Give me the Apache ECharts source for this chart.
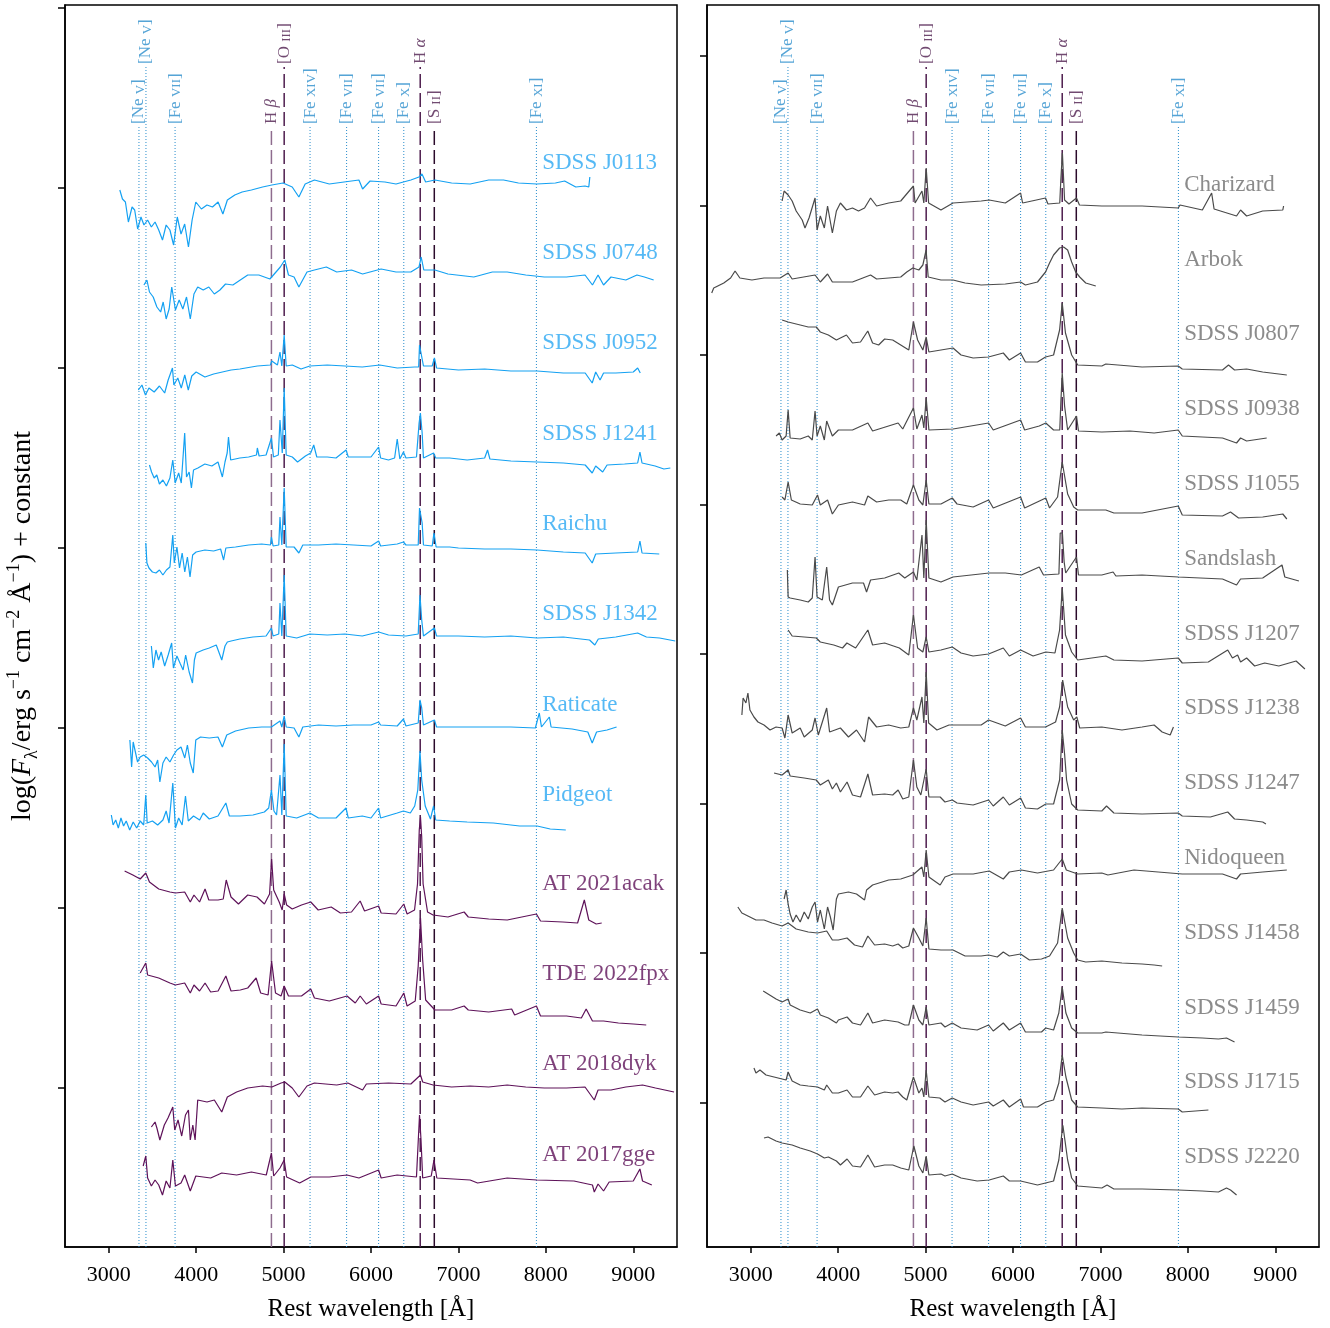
<!DOCTYPE html>
<html>
<head>
<meta charset="utf-8">
<script src="https://cdn.jsdelivr.net/npm/echarts@6/dist/echarts.min.js"></script>
<style>
  html, body { margin: 0; padding: 0; background: #fff; }
  #container { width: 1330px; height: 1328px; }
</style>
</head>
<body>
<div id="container"></div>
<script>
// ---------- line list ----------
var lineWl   = [3346, 3426, 3759, 4861, 5007, 5303, 5721, 6087, 6375, 6563, 6724, 7892];
var lineRow  = [0, 1, 0, 0, 1, 0, 0, 0, 0, 1, 0, 0];
var lineKind = ['c', 'c', 'c', 'hb', 'o3', 'c', 'c', 'c', 'c', 'ha', 's2', 'c'];
var lineText = ['{t|[Ne }{s|V}{t|]}', '{t|[Ne }{s|V}{t|]}', '{t|[Fe }{s|VII}{t|]}', '{t|H }{i|β}',
                '{t|[O }{s|III}{t|]}', '{t|[Fe }{s|XIV}{t|]}', '{t|[Fe }{s|VII}{t|]}', '{t|[Fe }{s|VII}{t|]}',
                '{t|[Fe }{s|X}{t|]}', '{t|H }{i|α}', '{t|[S }{s|II}{t|]}', '{t|[Fe }{s|XI}{t|]}'];

var xTicks  = [3000, 4000, 5000, 6000, 7000, 8000, 9000];
var yTicksL = [1.8, 3.6, 5.4, 7.2, 9.0, 10.8, 12.6];
var yTicksR = [1.5, 3.0, 4.49, 5.99, 7.48, 8.98, 10.47, 11.97];

// ---------- left panel spectra (wavelength, log flux rel. to continuum) ----------
var sJ0113 = [[3127,-0.08],[3157,-0.17],[3191,-0.20],[3225,-0.40],[3267,-0.25],[3297,-0.28],[3331,-0.47],[3369,-0.35],[3403,-0.43],[3445,-0.38],[3488,-0.45],[3530,-0.40],[3572,-0.48],[3615,-0.58],[3657,-0.43],[3700,-0.48],[3742,-0.63],[3784,-0.35],[3827,-0.52],[3869,-0.42],[3912,-0.65],[3954,-0.38],[3996,-0.20],[4060,-0.27],[4124,-0.23],[4187,-0.25],[4251,-0.20],[4306,-0.32],[4357,-0.18],[4442,-0.13],[4526,-0.10],[4632,-0.08],[4760,-0.05],[4866,-0.03],[4993,-0.01],[5099,-0.05],[5175,-0.15],[5247,-0.02],[5353,0.02],[5523,-0.02],[5692,0],[5862,0.02],[5904,-0.07],[5989,0.01],[6159,0],[6286,-0.02],[6456,0.02],[6549,0.05],[6583,0.08],[6625,0],[6731,0.02],[6922,-0.01],[7134,-0.02],[7346,0.02],[7516,0.02],[7686,-0.01],[7897,-0.02],[8109,-0.01],[8215,0.01],[8342,-0.05],[8448,-0.04],[8491,-0.05],[8503,0.05]];
var sJ0748 = [[3403,-0.13],[3437,-0.08],[3466,-0.20],[3509,-0.25],[3551,-0.35],[3594,-0.40],[3623,-0.30],[3657,-0.47],[3691,-0.37],[3721,-0.15],[3763,-0.38],[3806,-0.28],[3848,-0.37],[3890,-0.25],[3933,-0.47],[3975,-0.22],[4018,-0.15],[4081,-0.18],[4145,-0.15],[4208,-0.22],[4272,-0.18],[4336,-0.12],[4420,-0.13],[4505,-0.08],[4590,-0.03],[4717,-0.03],[4844,-0.07],[4963,0.05],[5014,0.12],[5056,-0.03],[5120,-0.05],[5175,-0.15],[5268,0],[5353,0.02],[5489,0.05],[5608,0],[5777,0.02],[5904,-0.02],[6116,0.03],[6286,0],[6456,0],[6549,0.05],[6574,0.15],[6604,0.02],[6731,0.02],[6880,-0.02],[7176,-0.05],[7388,0],[7558,0],[7770,-0.03],[7982,-0.05],[8236,-0.05],[8448,-0.03],[8533,-0.13],[8597,-0.03],[8660,-0.13],[8745,-0.05],[8915,-0.08],[9042,-0.03],[9127,-0.05],[9233,-0.08]];
var sJ0952 = [[3339,-0.25],[3380,-0.20],[3420,-0.30],[3460,-0.23],[3520,-0.27],[3580,-0.21],[3640,-0.28],[3680,-0.15],[3729,-0.03],[3745,-0.20],[3790,-0.13],[3830,-0.23],[3870,-0.10],[3910,-0.25],[3950,-0.11],[4000,-0.07],[4100,-0.12],[4200,-0.09],[4300,-0.07],[4400,-0.05],[4500,-0.04],[4700,-0.01],[4850,0],[4865,0.04],[4930,0],[4959,0.13],[4980,-0.01],[5007,0.30],[5030,-0.01],[5100,0],[5200,-0.04],[5300,-0.01],[5500,0],[5700,-0.01],[5900,-0.02],[6100,0],[6300,-0.03],[6500,-0.02],[6545,-0.02],[6555,0.20],[6575,0.22],[6600,-0.01],[6700,-0.01],[6725,0.07],[6750,-0.03],[7000,-0.05],[7300,-0.04],[7600,-0.06],[7900,-0.06],[8200,-0.08],[8450,-0.08],[8530,-0.18],[8570,-0.07],[8620,-0.15],[8660,-0.08],[8800,-0.08],[9000,-0.07],[9050,-0.03],[9080,-0.08]];
var sJ1241 = [[3466,-0.08],[3490,-0.15],[3520,-0.21],[3550,-0.18],[3580,-0.27],[3620,-0.23],[3660,-0.29],[3700,-0.21],[3733,-0.03],[3760,-0.26],[3800,-0.16],[3830,-0.26],[3869,0.24],[3890,-0.20],[3920,-0.15],[3946,-0.31],[3970,-0.13],[4020,-0.11],[4100,-0.07],[4180,-0.09],[4250,-0.05],[4300,-0.20],[4330,-0.05],[4355,0.04],[4370,0.20],[4395,-0.03],[4500,-0.01],[4600,0],[4690,0.02],[4700,0.09],[4720,0.01],[4800,0.02],[4861,0.19],[4885,0],[4940,0.02],[4959,0.37],[4985,0.04],[5007,0.69],[5030,0.02],[5100,0],[5160,-0.05],[5250,0.01],[5310,0.04],[5345,0.12],[5380,0],[5500,0],[5600,-0.01],[5715,0.07],[5740,0],[5900,0],[6000,0],[6087,0.10],[6110,-0.01],[6200,-0.03],[6270,-0.01],[6300,0.18],[6330,-0.02],[6371,0.05],[6400,-0.01],[6520,0],[6550,0.34],[6565,0.44],[6585,0.24],[6600,-0.01],[6716,0.04],[6740,-0.01],[6900,-0.01],[7100,-0.03],[7300,-0.01],[7333,0.07],[7360,-0.02],[7600,-0.04],[7900,-0.05],[8200,-0.06],[8450,-0.08],[8530,-0.16],[8570,-0.09],[8650,-0.15],[8700,-0.08],[8900,-0.07],[9050,-0.06],[9076,0.05],[9100,-0.06],[9250,-0.09],[9350,-0.12],[9424,-0.11]];
var sRaichu = [[3424,0.02],[3437,-0.18],[3460,-0.23],[3500,-0.27],[3540,-0.28],[3580,-0.25],[3620,-0.30],[3660,-0.25],[3700,-0.22],[3733,0.10],[3750,-0.18],[3780,-0.02],[3810,-0.23],[3840,-0.08],[3870,-0.27],[3900,-0.12],[3930,-0.32],[3960,-0.10],[4000,-0.07],[4100,-0.05],[4200,-0.06],[4280,-0.04],[4314,-0.15],[4340,-0.03],[4450,-0.02],[4600,0],[4750,0.01],[4850,0],[4861,0.08],[4880,-0.01],[4945,0],[4959,0.28],[4980,0],[5007,0.57],[5030,-0.02],[5120,-0.02],[5175,-0.08],[5220,0],[5400,0],[5600,0.01],[5800,0],[6000,-0.01],[6087,0.04],[6110,-0.01],[6300,0.01],[6371,0.03],[6400,0],[6540,0],[6555,0.37],[6570,0.35],[6585,0.22],[6600,0],[6700,-0.01],[6720,0.12],[6745,-0.02],[6900,-0.02],[7000,-0.03],[7300,-0.04],[7600,-0.04],[7900,-0.05],[8200,-0.07],[8450,-0.08],[8530,-0.18],[8570,-0.09],[8800,-0.08],[9050,-0.07],[9076,0.04],[9100,-0.08],[9297,-0.09]];
var sJ1342 = [[3488,-0.11],[3510,-0.33],[3540,-0.15],[3570,-0.25],[3600,-0.17],[3640,-0.31],[3680,-0.20],[3720,-0.08],[3740,-0.33],[3780,-0.21],[3820,-0.29],[3851,-0.35],[3880,-0.20],[3920,-0.37],[3958,-0.48],[3980,-0.25],[4000,-0.18],[4080,-0.15],[4150,-0.13],[4230,-0.10],[4293,-0.25],[4330,-0.11],[4357,-0.07],[4400,-0.06],[4500,-0.04],[4650,-0.02],[4800,-0.01],[4861,0.07],[4880,-0.01],[4945,0.01],[4959,0.32],[4980,-0.01],[5007,0.60],[5030,-0.01],[5150,-0.03],[5300,0.01],[5500,0],[5700,0.01],[5900,-0.01],[6087,0.03],[6200,0],[6400,-0.01],[6540,0.01],[6560,0.40],[6580,0.15],[6600,-0.01],[6725,0.07],[6750,-0.01],[7000,-0.01],[7300,-0.02],[7600,-0.01],[7900,-0.03],[8200,-0.02],[8500,-0.05],[8560,-0.10],[8600,-0.04],[8800,-0.02],[9050,0.02],[9150,-0.02],[9300,-0.03],[9480,-0.06]];
var sRaticate = [[3242,-0.15],[3262,-0.42],[3280,-0.17],[3300,-0.25],[3330,-0.37],[3360,-0.32],[3400,-0.30],[3445,-0.33],[3490,-0.37],[3530,-0.42],[3560,-0.35],[3585,-0.57],[3620,-0.38],[3657,-0.32],[3700,-0.37],[3742,-0.30],[3780,-0.25],[3827,-0.22],[3870,-0.33],[3900,-0.20],[3933,-0.38],[3967,-0.48],[3996,-0.15],[4050,-0.12],[4150,-0.13],[4250,-0.12],[4300,-0.22],[4350,-0.10],[4450,-0.06],[4600,-0.03],[4750,-0.02],[4861,-0.02],[4959,0.04],[4980,-0.02],[5007,0.09],[5030,-0.02],[5120,-0.03],[5175,-0.12],[5220,-0.02],[5400,0],[5600,-0.01],[5800,0],[6000,0],[6087,0.03],[6110,0],[6300,-0.01],[6371,0.06],[6400,-0.01],[6540,0.02],[6560,0.25],[6580,0.17],[6600,0],[6725,0.05],[6750,-0.02],[7000,-0.02],[7300,-0.02],[7600,-0.02],[7880,-0.03],[7925,0.12],[7950,-0.02],[8040,0.08],[8060,-0.02],[8300,-0.04],[8480,-0.07],[8530,-0.18],[8580,-0.07],[8700,-0.05],[8809,-0.02]];
var sPidgeot = [[3030,0.03],[3050,-0.07],[3080,-0.02],[3110,-0.10],[3140,0],[3170,-0.08],[3200,-0.03],[3240,-0.12],[3280,-0.04],[3320,-0.10],[3360,-0.03],[3400,-0.07],[3424,0.23],[3440,-0.05],[3500,-0.03],[3560,-0.07],[3620,-0.02],[3657,0.07],[3690,-0.05],[3733,0.35],[3763,-0.10],[3800,0],[3840,-0.07],[3878,0.22],[3910,-0.03],[3970,0.02],[4040,-0.02],[4081,0.05],[4150,-0.01],[4250,0.02],[4340,0.15],[4380,0.02],[4500,0.02],[4650,0.03],[4780,0.06],[4830,0.10],[4861,0.28],[4890,0.07],[4920,0.03],[4959,0.43],[4980,0.03],[5007,0.74],[5030,0.02],[5150,0],[5300,0.05],[5400,0],[5600,0],[5714,0.10],[5740,0],[5900,0.02],[6000,0],[6087,0.10],[6110,0],[6300,0.05],[6371,0.07],[6450,0.05],[6500,0.12],[6535,0.28],[6560,0.67],[6580,0.38],[6620,0.12],[6680,-0.01],[6716,0.12],[6740,-0.02],[6900,-0.03],[7100,-0.04],[7400,-0.05],[7700,-0.08],[7900,-0.08],[8050,-0.11],[8228,-0.12]];
var sAT2021acak = [[3182,0.41],[3276,0.37],[3360,0.33],[3424,0.39],[3466,0.30],[3572,0.23],[3700,0.20],[3763,0.19],[3869,0.20],[3933,0.10],[3975,0.17],[4039,0.10],[4102,0.23],[4145,0.12],[4251,0.12],[4310,0.13],[4344,0.32],[4399,0.15],[4484,0.08],[4590,0.17],[4696,0.15],[4781,0.08],[4840,0.18],[4863,0.53],[4887,0.22],[4950,0.10],[4984,0.02],[5007,0.18],[5035,0.07],[5099,0.03],[5205,0.07],[5311,0.10],[5396,0.02],[5545,0.05],[5650,-0.01],[5777,0],[5876,0.11],[5926,0.01],[6087,0.06],[6116,-0.01],[6286,-0.02],[6375,0.08],[6413,-0.02],[6498,0.02],[6532,0.28],[6552,0.82],[6566,0.95],[6580,0.75],[6596,0.28],[6647,0],[6710,-0.03],[6880,-0.05],[7065,0],[7113,-0.05],[7346,-0.07],[7558,-0.08],[7892,-0.02],[7939,-0.09],[8194,-0.10],[8363,-0.11],[8440,0.12],[8491,-0.08],[8576,-0.12],[8639,-0.11]];
var sTDE2022fpx = [[3360,0.30],[3424,0.40],[3445,0.28],[3572,0.25],[3700,0.20],[3763,0.18],[3869,0.20],[3933,0.10],[3975,0.18],[4039,0.12],[4102,0.20],[4166,0.11],[4251,0.12],[4340,0.27],[4399,0.12],[4505,0.13],[4590,0.15],[4686,0.25],[4738,0.10],[4823,0.08],[4863,0.42],[4908,0.10],[4971,0.07],[5007,0.17],[5056,0.07],[5205,0.07],[5311,0.14],[5353,0.05],[5523,0.02],[5726,0.07],[5820,0],[5876,0.07],[5947,-0.01],[6087,0.07],[6116,-0.01],[6286,-0.03],[6375,0.10],[6413,-0.03],[6506,0.02],[6540,0.37],[6566,0.85],[6591,0.43],[6625,0.03],[6731,-0.07],[6922,-0.07],[7065,-0.03],[7113,-0.07],[7346,-0.09],[7609,-0.06],[7643,-0.12],[7892,-0.03],[7939,-0.13],[8236,-0.13],[8406,-0.15],[8461,-0.06],[8533,-0.18],[8660,-0.18],[8830,-0.20],[9000,-0.21],[9148,-0.22]];
var sAT2018dyk = [[3488,-0.42],[3530,-0.37],[3551,-0.43],[3585,-0.55],[3636,-0.40],[3678,-0.33],[3733,-0.22],[3755,-0.45],[3793,-0.35],[3835,-0.51],[3878,-0.30],[3912,-0.25],[3933,-0.55],[3962,-0.40],[3988,-0.55],[4018,-0.15],[4124,-0.17],[4208,-0.15],[4293,-0.27],[4357,-0.12],[4463,-0.07],[4590,-0.03],[4760,-0.01],[4866,-0.02],[4972,0.02],[5014,0.03],[5099,-0.03],[5175,-0.12],[5268,-0.01],[5353,0.02],[5608,0],[5735,0.02],[5904,-0.05],[5947,0.01],[6201,0.02],[6456,0.01],[6566,0.10],[6591,0.03],[6710,0],[6922,-0.02],[7134,-0.01],[7346,-0.02],[7558,0],[7770,-0.02],[7982,-0.03],[8236,-0.03],[8448,-0.02],[8554,-0.15],[8597,-0.05],[8745,-0.05],[8915,-0.02],[9106,0],[9254,-0.03],[9466,-0.07]];
var sAT2017gge = [[3394,0.11],[3424,0.21],[3445,-0.01],[3488,-0.09],[3530,-0.03],[3572,-0.08],[3615,-0.18],[3657,-0.04],[3700,-0.11],[3733,0.17],[3763,-0.09],[3827,-0.06],[3869,0.02],[3933,-0.14],[3996,0.01],[4166,-0.01],[4293,0.04],[4463,0.02],[4632,0.05],[4802,0.02],[4861,0.24],[4887,0.01],[4959,0.09],[5007,0.17],[5035,0],[5184,-0.06],[5311,0],[5523,0],[5726,0.02],[5862,-0.01],[6087,0.07],[6116,-0.01],[6299,0.02],[6520,0],[6555,0.62],[6572,0.37],[6591,-0.01],[6689,0.01],[6720,0.17],[6753,-0.01],[7134,-0.03],[7219,-0.06],[7558,-0.01],[7897,-0.03],[8321,-0.04],[8533,-0.08],[8554,-0.15],[8597,-0.07],[8660,-0.14],[8724,-0.05],[9000,-0.04],[9076,0.08],[9106,-0.04],[9212,-0.08]];

// ---------- right panel spectra ----------
var sCharizard = [[3359,0.02],[3382,0.12],[3428,0.08],[3474,0.02],[3520,-0.08],[3589,-0.17],[3621,-0.25],[3667,-0.15],[3736,0.05],[3759,-0.27],[3796,-0.13],[3842,-0.25],[3879,-0.03],[3934,-0.30],[3980,-0.08],[4026,0],[4095,-0.07],[4164,-0.05],[4233,-0.08],[4302,-0.05],[4371,0.05],[4440,-0.03],[4578,0],[4716,0.02],[4861,0.17],[4880,0],[4959,0.12],[4980,0],[5007,0.35],[5035,0],[5176,-0.07],[5314,0],[5636,0.02],[5728,0.03],[5912,0],[6087,0.10],[6110,0],[6372,0.05],[6400,-0.01],[6535,0],[6547,0.23],[6565,0.50],[6590,0.03],[6640,-0.01],[6726,0.05],[6760,-0.02],[7016,-0.03],[7476,-0.03],[7890,-0.05],[7910,-0.02],[8166,-0.07],[8272,0.10],[8300,-0.06],[8557,-0.13],[8603,-0.07],[8672,-0.13],[8856,-0.08],[9086,-0.07],[9095,-0.03]];
var sArbok = [[2554,-0.13],[2577,-0.08],[2692,-0.03],[2770,0.02],[2821,0.09],[2876,0.02],[3014,0],[3152,0.02],[3336,0.02],[3428,0.07],[3474,0.01],[3736,0.05],[3796,-0.02],[3879,0.06],[3934,-0.02],[4164,-0.02],[4371,0.05],[4440,0.01],[4716,0.03],[4785,0.08],[4854,0.12],[4923,0.10],[4969,0.15],[5006,0.30],[5030,0.03],[5176,0],[5314,0],[5452,-0.03],[5636,-0.05],[5912,-0.04],[6087,-0.02],[6142,-0.05],[6280,-0.02],[6372,0.08],[6418,0.17],[6464,0.25],[6533,0.32],[6579,0.33],[6625,0.30],[6671,0.18],[6717,0.08],[6763,0.03],[6832,-0.03],[6947,-0.06]];
var sJ0807 = [[3359,0.40],[3428,0.38],[3566,0.35],[3658,0.33],[3750,0.33],[3796,0.28],[3888,0.25],[3980,0.20],[4095,0.25],[4164,0.17],[4256,0.18],[4339,0.29],[4394,0.17],[4463,0.15],[4532,0.21],[4624,0.20],[4716,0.15],[4808,0.10],[4861,0.38],[4909,0.20],[4969,0.10],[5007,0.23],[5038,0.08],[5176,0.10],[5314,0.12],[5406,0.05],[5544,0.02],[5719,0.03],[5889,0.07],[5958,0],[6087,0.07],[6142,-0.02],[6280,-0.02],[6372,0.03],[6464,0.05],[6533,0.30],[6563,0.57],[6600,0.27],[6671,0.05],[6740,-0.05],[7016,-0.06],[7062,-0.04],[7476,-0.07],[7890,-0.06],[7936,-0.09],[8396,-0.10],[8465,-0.05],[8534,-0.10],[8672,-0.09],[8856,-0.12],[9132,-0.15]];
var sJ0938 = [[3290,-0.07],[3327,-0.04],[3359,-0.11],[3405,-0.07],[3428,0.19],[3451,-0.09],[3566,-0.10],[3658,-0.07],[3704,-0.11],[3736,0.18],[3759,-0.07],[3796,0.03],[3842,-0.11],[3869,0.08],[3934,-0.07],[4003,-0.01],[4164,-0.01],[4340,0.06],[4394,-0.02],[4686,0.06],[4739,0],[4861,0.21],[4900,0],[4959,0.14],[4980,0.01],[5007,0.31],[5038,-0.01],[5314,0],[5721,0.06],[5774,-0.01],[6087,0.09],[6133,-0.01],[6300,0.03],[6375,0.06],[6464,-0.01],[6535,-0.01],[6547,0.26],[6563,0.56],[6590,0.23],[6625,-0.01],[6726,0.13],[6749,-0.02],[7016,-0.03],[7338,-0.02],[7614,-0.04],[7890,-0.01],[7936,-0.07],[8396,-0.09],[8557,-0.14],[8603,-0.09],[8672,-0.12],[8902,-0.09]];
var sJ1055 = [[3359,0.10],[3391,0.07],[3428,0.25],[3465,0.07],[3566,0.03],[3704,0.02],[3764,0.12],[3796,0.02],[3879,0.07],[3934,-0.07],[4003,0.02],[4164,0.05],[4302,0.02],[4340,0.11],[4440,0.05],[4578,0.07],[4716,0.07],[4785,0.03],[4861,0.22],[4923,0.07],[4969,0.02],[5007,0.27],[5038,0.03],[5176,0.03],[5305,0.09],[5360,0.03],[5544,0],[5721,0.07],[5774,-0.01],[6087,0.10],[6133,-0.01],[6375,0.09],[6418,-0.01],[6510,0.10],[6563,0.45],[6625,0.13],[6694,0],[6740,-0.03],[7062,-0.03],[7154,-0.06],[7476,-0.06],[7890,0.01],[7936,-0.08],[8396,-0.09],[8488,-0.05],[8580,-0.11],[8856,-0.10],[9086,-0.07],[9132,-0.12]];
var sSandslash = [[3419,0.05],[3428,-0.22],[3451,-0.23],[3566,-0.25],[3658,-0.27],[3704,-0.23],[3736,0.18],[3759,-0.22],[3819,-0.25],[3869,0.08],[3902,-0.25],[3934,-0.30],[4003,-0.12],[4164,-0.08],[4290,-0.08],[4325,-0.17],[4371,-0.05],[4532,-0.03],[4693,0.02],[4762,-0.03],[4861,0.03],[4900,-0.05],[4959,0.40],[4980,-0.03],[5007,0.55],[5038,-0.03],[5176,-0.07],[5314,-0.02],[5728,0.02],[5912,0.02],[6096,0],[6300,0.08],[6349,0],[6525,0.01],[6540,0.42],[6565,0.42],[6585,0.13],[6603,0.02],[6726,0.18],[6749,0],[7016,0],[7145,0.03],[7177,-0.01],[7476,0],[7890,-0.02],[8396,-0.04],[8557,-0.10],[8603,-0.04],[8856,-0.03],[9077,0.10],[9109,-0.02],[9270,-0.06]];
var sJ1207 = [[3428,0.25],[3474,0.19],[3612,0.18],[3750,0.17],[3796,0.13],[3950,0.10],[4050,0.07],[4100,0.12],[4200,0.07],[4340,0.25],[4394,0.10],[4532,0.12],[4700,0.07],[4808,0],[4861,0.40],[4909,0.07],[4969,0.03],[5007,0.18],[5038,0.03],[5176,0.05],[5305,0.08],[5406,0.02],[5544,-0.01],[5721,0.01],[5889,0.07],[5958,-0.01],[6087,0.05],[6230,-0.01],[6375,0.03],[6480,0.02],[6533,0.25],[6563,0.67],[6600,0.20],[6671,0.03],[6740,-0.05],[7062,-0.01],[7154,-0.05],[7476,-0.06],[7890,-0.03],[7936,-0.08],[8234,-0.07],[8456,0.05],[8510,-0.03],[8569,0],[8603,-0.07],[8672,-0.03],[8764,-0.11],[8879,-0.08],[9040,-0.11],[9238,-0.06],[9339,-0.14]];
var sJ1238 = [[2899,0.10],[2913,0.27],[2945,0.22],[2968,0.32],[2991,0.15],[3037,0.08],[3083,0.03],[3152,0],[3221,-0.05],[3290,-0.02],[3359,-0.03],[3391,-0.13],[3428,0.10],[3474,-0.08],[3566,-0.03],[3612,-0.12],[3704,-0.05],[3736,0.07],[3773,-0.10],[3869,0.17],[3902,-0.07],[4026,-0.03],[4118,-0.12],[4210,-0.05],[4302,-0.17],[4348,0.08],[4440,-0.02],[4578,0],[4716,-0.03],[4808,-0.02],[4861,0.17],[4900,0.05],[4959,0.28],[4980,0.02],[5007,0.53],[5035,0.02],[5130,-0.05],[5268,0],[5636,0],[5721,0.05],[5912,-0.01],[6087,0.07],[6142,-0.02],[6372,-0.02],[6487,0.03],[6533,0.18],[6568,0.45],[6625,0.18],[6694,0.05],[6730,0.08],[6763,-0.03],[7016,-0.02],[7246,-0.05],[7476,-0.02],[7614,0],[7706,-0.07],[7798,-0.10],[7835,-0.02]];
var sJ1247 = [[3267,0.34],[3359,0.32],[3428,0.37],[3451,0.31],[3612,0.29],[3750,0.27],[3796,0.22],[3888,0.27],[3934,0.18],[3980,0.24],[4026,0.15],[4102,0.25],[4164,0.12],[4256,0.10],[4340,0.33],[4394,0.12],[4532,0.13],[4624,0.12],[4686,0.17],[4739,0.08],[4808,0.10],[4861,0.47],[4900,0.20],[4946,0.12],[5007,0.38],[5038,0.10],[5167,0.10],[5222,0.05],[5305,0.07],[5360,0.04],[5544,0.02],[5721,0.07],[5774,0.01],[5889,0.10],[5958,0.02],[6087,0.09],[6142,-0.01],[6280,-0.02],[6375,0.03],[6464,0.03],[6533,0.27],[6563,0.77],[6590,0.53],[6613,0.27],[6671,0.03],[6740,-0.03],[7016,-0.04],[7070,0.01],[7154,-0.06],[7476,-0.07],[7890,-0.06],[7936,-0.09],[8258,-0.10],[8456,-0.05],[8534,-0.12],[8672,-0.13],[8856,-0.15],[8893,-0.17]];
var sNidoqueen = [[3382,-0.27],[3405,-0.18],[3428,-0.32],[3451,-0.42],[3483,-0.50],[3520,-0.43],[3566,-0.50],[3612,-0.40],[3658,-0.47],[3704,-0.35],[3736,-0.30],[3764,-0.50],[3796,-0.38],[3842,-0.57],[3879,-0.35],[3911,-0.45],[3943,-0.58],[3980,-0.27],[4003,-0.22],[4118,-0.20],[4210,-0.22],[4302,-0.28],[4325,-0.18],[4394,-0.13],[4578,-0.08],[4716,-0.07],[4854,-0.03],[4959,0.05],[4980,-0.05],[5007,0.22],[5038,-0.05],[5167,-0.13],[5222,-0.05],[5314,-0.02],[5544,-0.02],[5728,0.01],[5889,-0.07],[5958,0],[6096,0.02],[6280,-0.01],[6464,0.02],[6563,0.13],[6610,0.02],[6740,-0.02],[7016,-0.01],[7085,-0.03],[7384,0.02],[7660,0],[7936,-0.02],[8396,-0.02],[8557,-0.07],[8603,-0.02],[8856,0],[9132,0.02]];
var sJ1458 = [[2853,0.51],[2899,0.45],[2968,0.42],[3060,0.38],[3152,0.38],[3244,0.35],[3359,0.32],[3428,0.35],[3520,0.29],[3658,0.26],[3764,0.25],[3869,0.27],[3934,0.18],[4003,0.18],[4102,0.20],[4187,0.13],[4279,0.11],[4340,0.22],[4417,0.13],[4532,0.14],[4624,0.12],[4686,0.14],[4739,0.10],[4808,0.12],[4861,0.30],[4923,0.20],[4969,0.12],[5007,0.40],[5038,0.09],[5176,0.08],[5314,0.08],[5452,0.02],[5636,0.02],[5721,0.03],[5820,0.01],[5889,0.06],[5958,0.02],[6087,0.04],[6188,-0.02],[6326,-0.01],[6418,0.02],[6510,0.15],[6563,0.50],[6625,0.20],[6694,0.05],[6740,-0.02],[6832,-0.04],[7016,-0.03],[7246,-0.05],[7476,-0.06],[7614,-0.07],[7706,-0.08]];
var sJ1459 = [[3143,0.39],[3198,0.36],[3290,0.31],[3359,0.28],[3428,0.31],[3451,0.25],[3566,0.20],[3681,0.17],[3764,0.21],[3796,0.15],[3888,0.12],[3980,0.07],[4003,0.10],[4102,0.13],[4164,0.07],[4256,0.05],[4340,0.17],[4394,0.07],[4532,0.10],[4686,0.08],[4762,0.05],[4808,0.05],[4861,0.25],[4923,0.10],[4969,0.05],[5007,0.23],[5038,0.05],[5176,0.07],[5222,0.03],[5305,0.07],[5406,0.02],[5590,0],[5721,0.05],[5774,-0.01],[5889,0.07],[5958,0],[6087,0.07],[6142,-0.02],[6326,-0.02],[6375,0.02],[6464,0],[6524,0.17],[6563,0.43],[6605,0.17],[6671,0.02],[6740,-0.03],[7016,-0.03],[7062,-0.02],[7476,-0.05],[7890,-0.07],[8166,-0.08],[8350,-0.09],[8442,-0.08],[8534,-0.12]];
var sJ1715 = [[3037,0.37],[3060,0.32],[3106,0.35],[3175,0.30],[3267,0.28],[3359,0.26],[3405,0.25],[3428,0.33],[3474,0.24],[3566,0.20],[3658,0.19],[3764,0.18],[3842,0.15],[3869,0.20],[3934,0.12],[4003,0.12],[4102,0.15],[4164,0.08],[4256,0.08],[4340,0.19],[4417,0.10],[4532,0.13],[4624,0.12],[4686,0.13],[4739,0.08],[4785,0.05],[4861,0.28],[4923,0.12],[4959,0.17],[4980,0.08],[5007,0.35],[5038,0.08],[5162,0.07],[5222,0.03],[5305,0.07],[5406,0.03],[5544,0],[5721,0.03],[5774,-0.01],[5889,0.05],[5958,-0.02],[6087,0.06],[6120,-0.02],[6280,-0.02],[6375,0.03],[6464,0.05],[6524,0.22],[6563,0.50],[6605,0.28],[6671,0.05],[6740,-0.02],[7016,-0.03],[7246,-0.04],[7476,-0.03],[7890,-0.04],[7936,-0.07],[8235,-0.05]];
var sJ2220 = [[3152,0.45],[3198,0.46],[3290,0.42],[3359,0.40],[3474,0.38],[3566,0.35],[3681,0.32],[3764,0.29],[3842,0.25],[3888,0.26],[3980,0.22],[4026,0.18],[4102,0.24],[4164,0.17],[4256,0.16],[4340,0.28],[4417,0.16],[4532,0.18],[4624,0.18],[4716,0.15],[4808,0.13],[4866,0.37],[4923,0.17],[4969,0.10],[5007,0.27],[5038,0.08],[5176,0.09],[5222,0.07],[5305,0.09],[5406,0.05],[5590,0.02],[5728,0.03],[5889,0.07],[5958,0.02],[6087,0.02],[6280,-0.02],[6464,0.02],[6524,0.23],[6570,0.58],[6625,0.23],[6671,0.05],[6740,-0.03],[7016,-0.05],[7076,-0.02],[7154,-0.06],[7476,-0.06],[7890,-0.07],[8166,-0.08],[8350,-0.09],[8442,-0.05],[8488,-0.07],[8557,-0.12]];

// ---------- names, constants, label heights ----------
var leftNames   = ['SDSS J0113', 'SDSS J0748', 'SDSS J0952', 'SDSS J1241', 'Raichu', 'SDSS J1342', 'Raticate', 'Pidgeot', 'AT 2021acak', 'TDE 2022fpx', 'AT 2018dyk', 'AT 2017gge'];
var leftSpec    = [sJ0113, sJ0748, sJ0952, sJ1241, sRaichu, sJ1342, sRaticate, sPidgeot, sAT2021acak, sTDE2022fpx, sAT2018dyk, sAT2017gge];
var leftOffset  = [10.86, 9.96, 9.03, 8.11, 7.23, 6.33, 5.43, 4.50, 3.56, 2.65, 1.83, 0.91];
var leftLabelY  = [11.05, 10.15, 9.25, 8.34, 7.44, 6.54, 5.63, 4.73, 3.84, 2.94, 2.04, 1.13];
var leftGroup   = ['b', 'b', 'b', 'b', 'b', 'b', 'b', 'b', 'p', 'p', 'p', 'p'];

var rightNames  = ['Charizard', 'Arbok', 'SDSS J0807', 'SDSS J0938', 'SDSS J1055', 'Sandslash', 'SDSS J1207', 'SDSS J1238', 'SDSS J1247', 'Nidoqueen', 'SDSS J1458', 'SDSS J1459', 'SDSS J1715', 'SDSS J2220'];
var rightSpec   = [sCharizard, sArbok, sJ0807, sJ0938, sJ1055, sSandslash, sJ1207, sJ1238, sJ1247, sNidoqueen, sJ1458, sJ1459, sJ1715, sJ2220];
var rightOffset = [10.50, 9.73, 8.93, 8.24, 7.46, 6.78, 5.98, 5.28, 4.46, 3.81, 2.95, 2.23, 1.48, 0.70];
var rightLabelY = [10.68, 9.93, 9.19, 8.44, 7.69, 6.94, 6.19, 5.45, 4.70, 3.95, 3.20, 2.45, 1.71, 0.96];

// ---------- styling ----------
var FONT = '"Liberation Serif", "DejaVu Serif", serif';
var specColor  = { b: '#14a1f2', p: '#5e1259', g: '#4a4a4a' };
var labelColor = { b: '#2aa8f2', p: '#5e1259', g: '#6e6e6e' };
var lineStyles = {
  c:  { color: '#2a8dcc', width: 1, type: [1, 2] },
  hb: { color: '#8e6c8e', width: 1.5, type: [14, 5] },
  o3: { color: '#4e1d4e', width: 1.5, type: [14, 5] },
  ha: { color: '#4e1d4e', width: 1.5, type: [14, 5] },
  s2: { color: '#2b0b2b', width: 1.5, type: [14, 5] }
};
var labCol = { c: '#2a8dcc', hb: '#4e1d4e', o3: '#4e1d4e', ha: '#4e1d4e', s2: '#4e1d4e' };

var yRange   = [[0.21, 12.63], [0.06, 12.48]];
var labelTop = [[11.44, 12.04], [11.29, 11.89]];   // where the line labels sit (lower / upper row)
var NAME_WL = 7958;

var dom = document.getElementById('container');
var myChart = echarts.init(dom);
var series = [];

// vertical line markers and their labels, one set per panel
[0, 1].forEach(function (p) {
  lineWl.forEach(function (wl, k) {
    var top = labelTop[p][lineRow[k]] - 0.03;
    series.push({
      type: 'line', xAxisIndex: p, yAxisIndex: p, silent: true, symbol: 'none', z: 1,
      lineStyle: lineStyles[lineKind[k]],
      data: [[wl, yRange[p][0]], [wl, top]]
    });
  });
  series.push({
    type: 'scatter', xAxisIndex: p, yAxisIndex: p, silent: true, symbolSize: 0, z: 5,
    data: lineWl.map(function (wl, k) {
      var c = labCol[lineKind[k]];
      return {
        value: [wl, labelTop[p][lineRow[k]]], txt: lineText[k],
        label: { color: c, rich: { t: { color: c }, s: { color: c }, i: { color: c } } }
      };
    }),
    label: {
      show: true, position: [0, 0], rotate: 90, align: 'left', verticalAlign: 'middle',
      formatter: function (d) { return d.data.txt; },
      rich: {
        t: { fontFamily: FONT, fontSize: 17, verticalAlign: 'bottom' },
        s: { fontFamily: FONT, fontSize: 13, verticalAlign: 'bottom' },
        i: { fontFamily: FONT, fontSize: 17, fontStyle: 'italic', verticalAlign: 'bottom' }
      }
    },
    itemStyle: { color: 'transparent' }
  });
});

function addSpectra(p, names, specs, offs, labY, groups) {
  specs.forEach(function (pts, k) {
    var g = groups[k];
    series.push({
      type: 'line', xAxisIndex: p, yAxisIndex: p, silent: true, symbol: 'none', z: 3,
      lineStyle: { color: specColor[g], width: 1.2 },
      data: pts.map(function (q) { return [q[0], offs[k] + q[1]]; })
    });
  });
  series.push({
    type: 'scatter', xAxisIndex: p, yAxisIndex: p, silent: true, symbolSize: 0, z: 6,
    data: names.map(function (n, k) {
      return { value: [NAME_WL, labY[k]], name: n, label: { color: labelColor[groups[k]] } };
    }),
    label: { show: true, position: [0, 0], align: 'left', verticalAlign: 'middle',
             fontFamily: FONT, fontSize: 23, formatter: '{b}' },
    itemStyle: { color: 'transparent' }
  });
}
addSpectra(0, leftNames, leftSpec, leftOffset, leftLabelY, leftGroup);
addSpectra(1, rightNames, rightSpec, rightOffset, rightLabelY, rightNames.map(function () { return 'g'; }));

var axisBlack = { color: '#000', width: 1.5 };

option = {
  animation: false,
  backgroundColor: '#fff',
  grid: [
    { left: 65, top: 5, width: 612, height: 1242, show: true, borderColor: '#000', borderWidth: 1.5 },
    { left: 707, top: 5, width: 612, height: 1242, show: true, borderColor: '#000', borderWidth: 1.5 }
  ],
  xAxis: [0, 1].map(function (p) {
    return {
      gridIndex: p, type: 'value', min: 2500, max: 9500,
      axisLine: { show: true, lineStyle: axisBlack },
      axisTick: { show: true, customValues: xTicks, length: 6, lineStyle: axisBlack },
      axisLabel: { customValues: xTicks, color: '#000', fontFamily: FONT, fontSize: 22, margin: 17,
                   formatter: function (v) { return String(v); } },
      splitLine: { show: false },
      name: 'Rest wavelength [Å]', nameLocation: 'middle', nameGap: 50,
      nameTextStyle: { color: '#000', fontFamily: FONT, fontSize: 25 }
    };
  }),
  yAxis: [0, 1].map(function (p) {
    return {
      gridIndex: p, type: 'value', min: yRange[p][0], max: yRange[p][1],
      axisLine: { show: true, lineStyle: axisBlack },
      axisTick: { show: true, customValues: p === 0 ? yTicksL : yTicksR, length: 7, lineStyle: axisBlack },
      axisLabel: { show: false },
      splitLine: { show: false },
      name: p === 0 ? '{n|log(}{i|F}{sb|λ}{n|/erg s}{sp|−1}{n| cm}{sp|−2}{n| Å}{sp|−1}{n|) + constant}' : '',
      nameLocation: 'middle', nameGap: 24, nameRotate: 90,
      nameTextStyle: {
        color: '#000',
        rich: {
          n:  { fontFamily: FONT, fontSize: 28, lineHeight: 36, verticalAlign: 'middle', color: '#000' },
          i:  { fontFamily: FONT, fontSize: 28, fontStyle: 'italic', lineHeight: 36, verticalAlign: 'middle', color: '#000' },
          sb: { fontFamily: FONT, fontSize: 18, verticalAlign: 'bottom', color: '#000' },
          sp: { fontFamily: FONT, fontSize: 18, verticalAlign: 'top', color: '#000' }
        }
      }
    };
  }),
  series: series
};

if (option && typeof option === 'object') {
  myChart.setOption(option, true);
}
</script>
</body>
</html>
